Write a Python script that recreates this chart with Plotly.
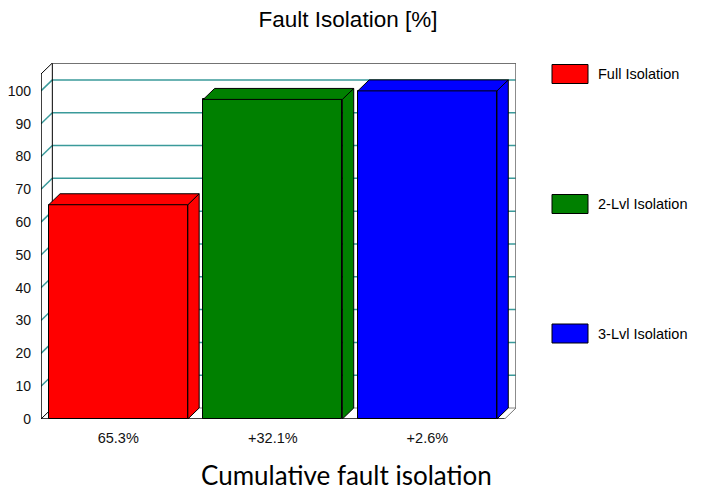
import numpy as np
import plotly.graph_objects as go

# datos del grafico
categorias = ["Full Isolation", "2-Lvl Isolation", "3-Lvl Isolation"]
incrementos = [65.3, 32.1, 2.6]
etiquetas_x = ["65.3%", "+32.1%", "+2.6%"]
colores = ["#FF0000", "#008000", "#0000FF"]
ticks_y = [0, 10, 20, 30, 40, 50, 60, 70, 80, 90, 100]

acumulado = np.cumsum(incrementos)
posiciones = list(range(len(categorias)))

# geometria del efecto 3D (unidades de los ejes)
ANCHO = 0.9
DX = 0.0733
DY = 3.35
Y_TOP = 108.5
X0, X1 = -0.5, len(categorias) - 0.5

# la pagina deja 8 px de margen en el body
OFF = 8
W, H = 708 - OFF, 496 - OFF
ML, MR, MT, MB = 41 - OFF, 192, 63 - OFF, 77
PW, PH = W - ML - MR, H - MT - MB

FUENTE = "Liberation Sans, Arial, sans-serif"
TEAL = "#3a9a9a"


def px_x(px):
    return (px - OFF - ML) / PW


def px_y(py):
    return (H - MB - (py - OFF)) / PH


fig = go.Figure()

fig.add_trace(go.Bar(
    x=posiciones, y=acumulado, width=ANCHO,
    marker=dict(color=colores, line=dict(color="black", width=1)),
    hoverinfo="skip", showlegend=False,
))

# caras laterales y superiores de cada barra
for i, v, c in zip(posiciones, acumulado, colores):
    xa, xb = i - ANCHO / 2, i + ANCHO / 2
    fig.add_trace(go.Scatter(
        x=[xb, xb + DX, xb + DX, xb, xb], y=[0, DY, v + DY, v, 0],
        fill="toself", fillcolor=c, mode="lines",
        line=dict(color="black", width=1), hoverinfo="skip", showlegend=False,
    ))
    fig.add_trace(go.Scatter(
        x=[xa, xa + DX, xb + DX, xb, xa], y=[v, v + DY, v + DY, v, v],
        fill="toself", fillcolor=c, mode="lines",
        line=dict(color="black", width=1), hoverinfo="skip", showlegend=False,
    ))

shapes = []


def linea(xa, ya, xb, yb, color, ancho=1):
    shapes.append(dict(type="line", xref="x", yref="y", x0=xa, y0=ya, x1=xb, y1=yb,
                       line=dict(color=color, width=ancho), layer="below"))


# rejilla en el plano del fondo y en la pared izquierda
for v in ticks_y[1:]:
    linea(X0 + DX, v + DY, X1 + DX, v + DY, TEAL, 1.5)
    linea(X0, v, X0 + DX, v + DY, TEAL, 1.5)

# marco
linea(X0 + DX, DY, X1 + DX, DY, "#888888")
linea(X0, 0, X0 + DX, DY, "black")
linea(X1, 0, X1 + DX, DY, "#777777")
linea(X0 + DX, DY, X0 + DX, Y_TOP, "black")
linea(X0, 0, X0, Y_TOP - DY, "black", 1.5)
linea(X0, Y_TOP - DY, X0 + DX, Y_TOP, "black")
linea(X0 + DX, Y_TOP, X1 + DX, Y_TOP, "#444444", 1.5)
linea(X1 + DX, DY, X1 + DX, Y_TOP, "#666666", 1.5)
linea(X0, 0, X1, 0, "black", 1.5)

# leyenda
anotaciones = []
centros_leyenda = [74, 204, 333.5]
for nombre, c, cy in zip(categorias, colores, centros_leyenda):
    shapes.append(dict(type="rect", xref="paper", yref="paper",
                       x0=px_x(552), x1=px_x(588), y0=px_y(cy - 9.5), y1=px_y(cy + 9.5),
                       fillcolor=c, line=dict(color="black", width=1)))
    anotaciones.append(dict(text=nombre, xref="paper", yref="paper", x=px_x(596), y=px_y(cy),
                            xanchor="left", yanchor="middle", showarrow=False,
                            font=dict(family=FUENTE, size=14.5, color="black")))

anotaciones.append(dict(text="Cumulative fault isolation", xref="paper", yref="paper",
                        x=px_x(346.7), y=px_y(475), xanchor="center", yanchor="middle",
                        showarrow=False, font=dict(family="Lato, sans-serif", size=26, color="black")))

fig.update_layout(
    width=W, height=H,
    margin=dict(l=ML, r=MR, t=MT, b=MB, autoexpand=False),
    paper_bgcolor="white", plot_bgcolor="white",
    title=dict(text="Fault Isolation [%]", x=(348 - OFF) / W, xanchor="center", xref="container",
               y=1 - 3 / H, yanchor="top", yref="container", automargin=False,
               font=dict(family=FUENTE, size=22.5, color="black")),
    xaxis=dict(range=[X0, X1 + DX], tickvals=posiciones, ticktext=etiquetas_x,
               showgrid=False, zeroline=False, showline=False, ticks="", automargin=False,
               ticklabelstandoff=8, tickfont=dict(family=FUENTE, size=14.5, color="#111111"),
               fixedrange=True),
    yaxis=dict(range=[0, Y_TOP], tickvals=ticks_y, showgrid=False, zeroline=False,
               showline=False, ticks="", ticklabelstandoff=9, automargin=False,
               tickfont=dict(family=FUENTE, size=14, color="#111111"), fixedrange=True),
    shapes=shapes,
    annotations=anotaciones,
    bargap=0,
)

fig.write_html("out.html")
